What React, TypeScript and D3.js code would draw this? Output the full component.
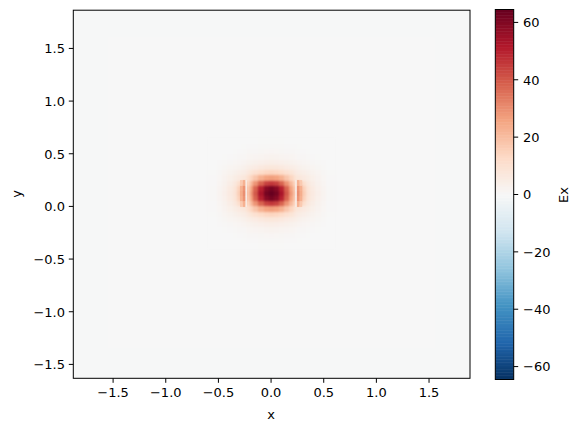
import * as d3 from 'd3';

// axis limits and ticks
const xDomain: [number, number] = [-1.878, 1.889];
const yDomain: [number, number] = [-1.632, 1.863];
const axisTicks = [-1.5, -1.0, -0.5, 0.0, 0.5, 1.0, 1.5];
const colorTicks = [-60, -40, -20, 0, 20, 40, 60];
const colorLimit = 64.5;

// matplotlib RdBu_r
const rdbu = ['#053061', '#2166ac', '#4393c3', '#92c5de', '#d1e5f0', '#f7f7f7', '#fddbc7', '#f4a582', '#d6604d', '#b2182b', '#67001f'];

// field around the peak. Columns go outward from x=0 and are mirrored.
const peakY = 0.125;
const columnEdges = [0, 0.025, 0.075, 0.125, 0.175, 0.205, 0.23, 0.245, 0.27, 0.295, 0.33, 0.37, 0.42, 0.47, 0.52, 0.6];
const rowStep = 0.05;
const rowsAbove = [
  [65, 62, 53, 40, 28, 18, 2, 30, 24, 16, 9, 6, 3.5, 1.8, 0.5],
  [62, 59, 50, 38, 26, 17, 2, 29, 23, 15, 8.5, 5.6, 3.3, 1.7, 0.5],
  [46, 44, 38, 29, 21, 14, 3, 23, 17, 11, 7, 4.6, 2.8, 1.4, 0.4],
  [27, 26, 23, 18, 14, 11, 8, 7.5, 7, 6, 4.8, 3.4, 2.2, 1.1, 0.3],
  [14, 13.5, 12, 10, 8.5, 7, 6, 5.2, 4.5, 4, 3.2, 2.3, 1.5, 0.8, 0.2],
  [7.5, 7.2, 6.5, 5.5, 4.8, 4.2, 3.7, 3.2, 2.8, 2.4, 2, 1.5, 1, 0.5, 0.1],
  [4.2, 4, 3.6, 3.1, 2.7, 2.4, 2.1, 1.9, 1.7, 1.4, 1.1, 0.8, 0.5, 0.3, 0.1],
  [2.3, 2.2, 2, 1.7, 1.5, 1.3, 1.1, 0.9, 0.8, 0.7, 0.5, 0.4, 0.2, 0.1, 0],
  [1.2, 1.1, 1, 0.9, 0.8, 0.7, 0.6, 0.5, 0.4, 0.3, 0.2, 0.1, 0.1, 0, 0],
  [0.6, 0.6, 0.5, 0.4, 0.4, 0.3, 0.3, 0.2, 0.2, 0.1, 0.1, 0, 0, 0, 0],
  [0.2, 0.2, 0.2, 0.1, 0.1, 0.1, 0.1, 0, 0, 0, 0, 0, 0, 0, 0],
];
const crispRows = 3;
const slitColumn = 6;
const crispColumns = [6, 7, 8];
const backgroundValue = 0;

const fmt = (v: number) => (v < 0 ? '\u2212' : '') + Math.abs(v).toFixed(1);
const fontFamily = '"DejaVu Sans"';
const fontSize = 13;

export default function App() {
  const x = d3.scaleLinear().domain(xDomain).range([73.3, 470]);
  const y = d3.scaleLinear().domain(yDomain).range([378.3, 10.2]);
  const cbY = d3.scaleLinear().domain([-colorLimit, colorLimit]).range([379.5, 9.5]);
  const color = d3.scaleLinear<string>()
    .domain(d3.range(11).map(i => -colorLimit + (i * colorLimit) / 5))
    .range(rdbu)
    .clamp(true);

  type Cell = { x0: number; x1: number; y0: number; y1: number; v: number };
  const soft: Cell[] = [];
  const crisp: Cell[] = [];
  rowsAbove.forEach((row, k) => {
    const signs = k === 0 ? [1] : [1, -1];
    signs.forEach(s => {
      const yc = peakY + s * k * rowStep;
      row.forEach((v, c) => {
        const a = columnEdges[c];
        const b = columnEdges[c + 1];
        const y0 = yc - rowStep / 2;
        const y1 = yc + rowStep / 2;
        // the slit is drawn sharp on top, so it must not bleed into the blurred layer
        const under = k < crispRows && c === slitColumn ? row[c - 1] : v;
        soft.push({ x0: a, x1: b, y0, y1, v: under }, { x0: -b, x1: -a, y0, y1, v: under });
        if (k < crispRows && crispColumns.includes(c)) {
          crisp.push({ x0: a, x1: b, y0, y1, v }, { x0: -b, x1: -a, y0, y1, v });
        }
      });
    });
  });

  const cellRect = (c: Cell, i: number, padX: number, padY: number) => (
    <rect key={i} x={x(c.x0)} y={y(c.y1)} width={x(c.x1) - x(c.x0) + padX} height={y(c.y0) - y(c.y1) + padY} fill={color(c.v)} />
  );

  const barSteps = d3.range(0, 256);

  return (
    <svg width={581} height={431} style={{ position: 'absolute', left: 0, top: 0 }} fontFamily={fontFamily} fontSize={fontSize} fill="#000">
      <defs>
        <clipPath id="plot"><rect x={73} y={10} width={397} height={368} /></clipPath>
        <filter id="soft" x="-10%" y="-10%" width="120%" height="120%" colorInterpolationFilters="sRGB">
          <feGaussianBlur stdDeviation={1.3} />
        </filter>
      </defs>
      <g clipPath="url(#plot)">
        <rect x={73} y={10} width={397} height={368} fill="#f6f7f7" />
        <rect x={x(-1.55)} y={y(1.6)} width={x(1.55) - x(-1.55)} height={y(-1.35) - y(1.6)} fill={color(backgroundValue)} />
        <g filter="url(#soft)" shapeRendering="crispEdges">
          {soft.map((c, i) => cellRect(c, i, 0.5, 0.5))}
        </g>
        <g>{crisp.map((c, i) => cellRect(c, i, 0, 0.5))}</g>
      </g>
      <rect x={73.3} y={10.2} width={396.7} height={368.1} fill="none" stroke="#000" strokeWidth={1} />

      {axisTicks.map(t => (
        <g key={t}>
          <line x1={x(t)} x2={x(t)} y1={378.3} y2={382.8} stroke="#000" />
          <text x={x(t)} y={397} textAnchor="middle">{fmt(t)}</text>
          <line x1={68.8} x2={73.3} y1={y(t)} y2={y(t)} stroke="#000" />
          <text x={65} y={y(t) + 4.8} textAnchor="end">{fmt(t)}</text>
        </g>
      ))}
      <text x={271} y={419} textAnchor="middle">x</text>
      <text transform="translate(21,194) rotate(-90)" textAnchor="middle">y</text>

      {barSteps.map(i => {
        const v0 = -colorLimit + (i / 256) * 2 * colorLimit;
        const v1 = -colorLimit + ((i + 1) / 256) * 2 * colorLimit;
        return <rect key={i} x={495.3} y={cbY(v1)} width={18.4} height={cbY(v0) - cbY(v1) + 0.5} fill={color((v0 + v1) / 2)} />;
      })}
      <rect x={495.3} y={9.5} width={18.4} height={370} fill="none" stroke="#000" strokeWidth={1} />
      {colorTicks.map(t => (
        <g key={t}>
          <line x1={513.7} x2={518.2} y1={cbY(t)} y2={cbY(t)} stroke="#000" />
          <text x={523} y={cbY(t) + 4.8}>{t < 0 ? '\u2212' + -t : t}</text>
        </g>
      ))}
      <text transform="translate(568,195) rotate(-90)" textAnchor="middle">Ex</text>
    </svg>
  );
}
